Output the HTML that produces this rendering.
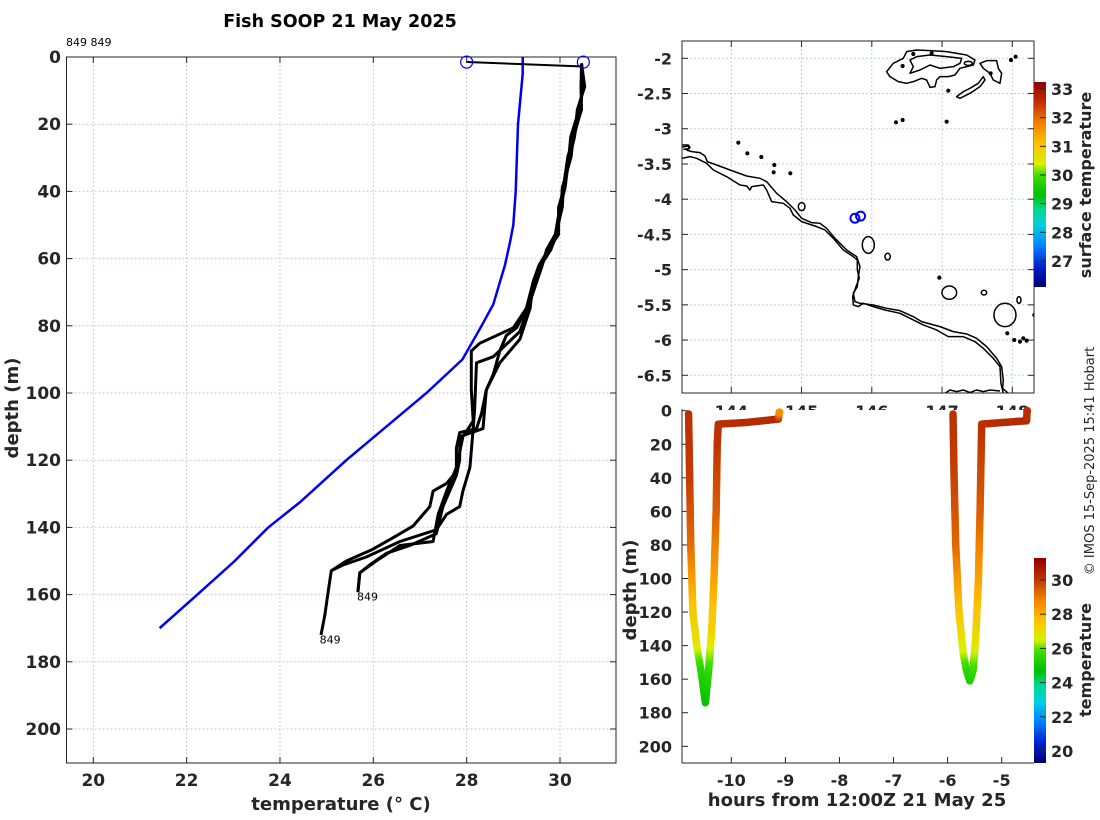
<!DOCTYPE html>
<html><head><meta charset="utf-8"><style>
html,body{margin:0;padding:0;background:#fff;}
svg{display:block;font-family:"DejaVu Sans","Liberation Sans",sans-serif;}
.tk{font-size:16px;font-weight:bold;fill:#262626;}
.tkl{font-size:17px;font-weight:bold;fill:#262626;}
.lb{font-size:18px;font-weight:bold;fill:#262626;}
.grid{stroke:#c4cbe8;stroke-width:1;stroke-dasharray:2,2;}
</style></head><body>
<svg id="fig" width="1100" height="820" viewBox="0 0 1100 820">
<defs>
<linearGradient id="cmap" x1="0" y1="1" x2="0" y2="0">
<stop offset="0" stop-color="#000070"/><stop offset="0.1" stop-color="#0020d0"/><stop offset="0.2" stop-color="#0080ff"/><stop offset="0.3" stop-color="#00d0e0"/><stop offset="0.38" stop-color="#00d890"/><stop offset="0.45" stop-color="#00c000"/><stop offset="0.55" stop-color="#40e000"/><stop offset="0.6" stop-color="#d8f000"/><stop offset="0.7" stop-color="#ffc000"/><stop offset="0.8" stop-color="#f08000"/><stop offset="0.9" stop-color="#c03000"/><stop offset="1" stop-color="#900000"/>
</linearGradient>
<clipPath id="mapclip"><rect x="682" y="41" width="352" height="352"/></clipPath>
<clipPath id="leftclip"><rect x="66.5" y="50" width="549.5" height="713"/></clipPath>
</defs>
<text x="340" y="27" text-anchor="middle" style="font-size:17.5px;font-weight:bold">Fish SOOP 21 May 2025</text>
<text x="66" y="46" style="font-size:11px">849 849</text>
<g id="left"></g>
<g id="map"></g>
<g id="lower"></g>
<text transform="translate(1094,461) rotate(-90)" text-anchor="middle" style="font-size:13px;fill:#262626">© IMOS 15-Sep-2025 15:41 Hobart</text>
</svg>
<script>
// ---------- left profile data ----------
const climTemp=[29.2,29.2,29.1,29.05,29.0,28.93,28.82,28.57,28.32,27.91,27.14,26.28,25.42,24.42,23.75,23.03,22.23,21.42];
const climDepth=[0,5,20,40,50,55,62,73.6,80,90,100,110,120,132.6,140,150,160,170];
const topT=[30.46,30.48,30.41,30.28,30.21,30.07,30.0,29.93,29.75,29.57];
const topD=[1.9,8.8,15.7,23.8,29.6,38.9,44.7,52.8,57.4,62.0];
const profATemp=[29.43,29.28,29.07,28.85,28.71,28.57,28.42,28.32,28.21,27.85,27.78,27.78,27.57,27.28,27.21,26.85,26.42,25.99,25.42,25.10,25.03,24.96,24.88];
const profADepth=[66.7,74.8,80.6,82.9,87.5,94.4,99.1,106.0,110.6,111.8,116.4,123.4,126.9,129.2,133.8,139.6,143.1,146.5,150.0,152.9,159.3,166.2,172.0];
const profBTemp=[29.28,29.0,28.28,28.10,28.10,28.14,27.92,27.85,27.78,27.57,27.39,27.28,26.57,26.06,25.71,25.67];
const profBDepth=[74.8,80.6,85.2,87.5,99.1,108.3,113.0,117.6,122.2,129.2,136.1,144.2,145.4,150.0,153.5,159.3];
const profCTemp=[29.14,28.57,28.21,28.17,28.14,28.07,27.92,27.85,27.57,27.35,26.57,25.85,25.35,25.10];
const profCDepth=[81.7,89.2,91.0,104.9,110.6,122.2,129.2,133.8,136.1,140.7,144.2,148.8,151.2,152.9];
const profDTemp=[29.43,29.36,29.14,28.71,28.42,28.35,27.85,27.85,27.78,27.49,27.35,26.78,26.28,25.92,25.71,25.67];
const profDDepth=[66.7,74.8,84.0,91.0,99.1,110.6,113.0,119.9,124.5,133.8,141.9,145.4,147.7,151.2,153.5,159.3];
const startTemp=[28.0,30.43];
const startDepth=[1.5,2.8];
const circleTemp=[28.0,30.5];
const circleDepth=[1.5,1.5];
const tempTicks=[20,22,24,26,28,30];
const depthTicks=[0,20,40,60,80,100,120,140,160,180,200];
// ---------- map data ----------
const shipLon=[145.76,145.84];
const shipLat=[-4.27,-4.24];
const latTicks=[-2,-2.5,-3,-3.5,-4,-4.5,-5,-5.5,-6,-6.5];
const lonTicks=[144,145,146,147,148];
const sstTicks=[27,28,29,30,31,32,33];
// ---------- section data ----------
const dive1Time=[-10.79,-10.77,-10.75,-10.71,-10.64,-10.56,-10.48,-10.42,-10.36,-10.32,-10.28,-10.26,-10.24,-9.72,-9.13,-9.11];
const dive1Depth=[2,40,80,120,140,155,174,155,130,100,60,20,8,7,5,1];
const dive1Temp=[30.4,30.2,29.3,27.5,26.8,25.5,24.8,25.5,27.2,28.2,29.5,30.3,30.4,30.5,30.5,28.6];
const dive2Time=[-5.90,-5.88,-5.85,-5.79,-5.71,-5.65,-5.59,-5.53,-5.48,-5.43,-5.40,-5.37,-4.97,-4.54,-4.53];
const dive2Depth=[2,40,80,120,145,155,161,155,135,100,60,8,7,6,0];
const dive2Temp=[30.4,30.1,29.4,27.6,26.5,25.6,25.2,25.6,27.0,28.2,29.5,30.4,30.5,30.5,30.4];
const hourTicks=[-10,-9,-8,-7,-6,-5];
const secDepthTicks=[0,20,40,60,80,100,120,140,160,180,200];
const cbTempTicks=[20,22,24,26,28,30];

const NS="http://www.w3.org/2000/svg";
function mk(parent,tag,attrs,name,text){const e=document.createElementNS(NS,tag);for(const k in attrs)e.setAttribute(k,attrs[k]);


if(text!==undefined)e.textContent=text;parent.appendChild(e);return e;}
function lin(d0,d1,r0,r1){return v=>r0+(v-d0)/(d1-d0)*(r1-r0);}

// ================= LEFT =================
const L=document.getElementById('left');
const lx=lin(20,30,93.3,560),ly=lin(0,200,57,729);
const LX0=66.5,LX1=616,LY0=57,LY1=763;
tempTicks.forEach(t=>{mk(L,'line',{x1:lx(t),x2:lx(t),y1:LY0,y2:LY1,class:'grid'},'x-gridline');
mk(L,'line',{x1:lx(t),x2:lx(t),y1:LY1,y2:LY1-6,stroke:'#262626'},'x-tick');
mk(L,'line',{x1:lx(t),x2:lx(t),y1:LY0,y2:LY0+6,stroke:'#262626'},'x-tick');
mk(L,'text',{x:lx(t),y:786,'text-anchor':'middle',class:'tkl'},'x-tick-label',String(t));});
depthTicks.forEach(d=>{mk(L,'line',{x1:LX0,x2:LX1,y1:ly(d),y2:ly(d),class:'grid'},'y-gridline');
mk(L,'line',{x1:LX0,x2:LX0+6,y1:ly(d),y2:ly(d),stroke:'#262626'},'y-tick');
mk(L,'line',{x1:LX1,x2:LX1-6,y1:ly(d),y2:ly(d),stroke:'#262626'},'y-tick');
mk(L,'text',{x:61,y:ly(d)+6,'text-anchor':'end',class:'tkl'},'y-tick-label',String(d));});
mk(L,'rect',{x:LX0,y:LY0,width:LX1-LX0,height:LY1-LY0,fill:'none',stroke:'#262626'},'plot-frame');
const lg=mk(L,'g',{'clip-path':'url(#leftclip)'},'profile-lines');
function pts(T,D){return T.map((t,i)=>lx(t).toFixed(1)+','+ly(D[i]).toFixed(1)).join(' ');}
mk(lg,'polyline',{points:pts(climTemp,climDepth),fill:'none',stroke:'#0000ee','stroke-width':2.5},'climatology-line');
const profs=[[profATemp,profADepth,[0,0.05,-0.04,0.03,0,0.02,-0.03,0.04,0,-0.02]],[profBTemp,profBDepth,[0,-0.03,0.05,0,0.03,-0.02,0.03,0,0.05,0.02]],[profCTemp,profCDepth,[0,0.02,0,-0.05,-0.02,0.04,0,-0.03,-0.04,0.05]],[profDTemp,profDDepth,[0,0,0.03,0.02,-0.04,0,0.05,-0.02,0.03,0]]];
profs.forEach((p,k)=>{const T=topT.map((t,i)=>t+p[2][i]).concat(p[0]);const D=topD.concat(p[1]);
mk(lg,'polyline',{points:pts(T,D),fill:'none',stroke:'#000','stroke-width':3,'stroke-linejoin':'round'},'xbt-profile');});
mk(lg,'polyline',{points:pts(startTemp,startDepth),fill:'none',stroke:'#000','stroke-width':2},'surface-connector');
circleTemp.forEach((t,i)=>mk(lg,'circle',{cx:lx(t),cy:ly(circleDepth[i]),r:6,fill:'none',stroke:'#0000ff','stroke-width':1.2},'start-marker'));
mk(L,'text',{x:lx(25.65),y:ly(160)+6,style:'font-size:11px'},'profile-label','849');
mk(L,'text',{x:lx(24.85),y:ly(174)+2,style:'font-size:11px'},'profile-label','849');
mk(L,'text',{x:341,y:810,'text-anchor':'middle',class:'lb'},'x-axis-title','temperature (° C)');
mk(L,'text',{transform:'translate(18,408) rotate(-90)','text-anchor':'middle',class:'lb'},'y-axis-title','depth (m)');

// ================= MAP =================
const M=document.getElementById('map');
const mx=lin(144,148,731.3,1012.3),my=lin(-2,-6.5,58.3,375.3);
const MX0=682,MX1=1034,MY0=41,MY1=393;
lonTicks.forEach(v=>{mk(M,'line',{x1:mx(v),x2:mx(v),y1:MY0,y2:MY1,class:'grid'},'lon-gridline');
mk(M,'line',{x1:mx(v),x2:mx(v),y1:MY0,y2:MY0+6,stroke:'#262626'},'lon-tick');
mk(M,'line',{x1:mx(v),x2:mx(v),y1:MY1,y2:MY1-6,stroke:'#262626'},'lon-tick');
mk(M,'text',{x:mx(v),y:417,'text-anchor':'middle',class:'tk'},'lon-tick-label',String(v));});
latTicks.forEach(v=>{mk(M,'line',{x1:MX0,x2:MX1,y1:my(v),y2:my(v),class:'grid'},'lat-gridline');
mk(M,'line',{x1:MX0,x2:MX0+6,y1:my(v),y2:my(v),stroke:'#262626'},'lat-tick');
mk(M,'line',{x1:MX1,x2:MX1-6,y1:my(v),y2:my(v),stroke:'#262626'},'lat-tick');
mk(M,'text',{x:672,y:my(v)+6,'text-anchor':'end',class:'tk'},'lat-tick-label',String(v));});
const cg=mk(M,'g',{'clip-path':'url(#mapclip)'},'coastlines');
const cz=mk(cg,'g',{transform:'translate(620,30) scale(0.3333)',fill:'none',stroke:'#000','stroke-width':4.5,'stroke-linejoin':'round'},'coast-group');
const coast=[
"M187,345 L205,345 210,352 200,360 215,365 240,368 255,378 262,395 290,405 330,420 380,438 420,445 440,455 470,490 500,515 525,540 545,565 575,578 600,580 620,595 645,625 680,660 710,680 720,710 715,740 712,770 700,790 705,815 720,820 760,825 800,835 840,842 880,860 905,875 960,890 1000,905 1040,912 1070,925 1100,950 1130,985 1145,1010 1150,1050 1148,1075 1165,1090",
"M187,385 L210,380 230,385 260,400 280,420 320,440 360,465 380,468 390,480 395,470 430,465 440,480 455,515 490,520 510,535 520,555 545,575 590,590 615,600 640,625 670,660 700,680 712,690 712,720 718,745 708,770 698,800 700,825 715,830 730,820 760,830 795,840 840,850 880,870 910,885 950,900 985,920 1030,920 1065,935 1090,955 1120,985 1140,1010 1143,1060 1150,1090",
"M975,1090 L990,1080 1010,1085 1030,1080 1050,1088 1070,1080 1090,1085 1110,1080 1140,1083",
"M800,125 L820,100 850,85 860,65 890,60 930,62 980,65 1040,75 1065,90 1060,105 1040,110 1020,115 1005,135 985,140 960,140 950,150 945,170 930,172 920,150 905,145 880,155 860,160 835,155 810,140 Z",
"M870,90 L880,110 870,130 900,120 930,105 960,115 1000,110 1020,100 1025,85 980,80 930,75 890,80 Z",
"M1080,100 L1100,92 1130,92 1135,115 1145,130 1140,160 1120,150 1110,130 1090,115 Z",
"M1010,200 L1030,185 1050,175 1075,160 1090,140 1095,150 1080,170 1050,190 1020,205 Z",
"M183,352 L205,348 208,356 190,358"];
coast.forEach(d=>mk(cz,'path',{d:d},'coastline'));
[[545,530,10,12],[745,645,18,25],[803,680,8,10],[988,788,22,20],[1092,788,8,7],[1155,855,33,35],[1197,810,6,10],[1045,100,12,6]].forEach(e=>mk(cz,'ellipse',{cx:e[0],cy:e[1],rx:e[2],ry:e[3]},'island'));
[[355,338],[382,370],[424,381],[463,405],[461,427],[511,430],[828,277],[848,270],[980,275],[958,743],[985,182],[1173,90],[1187,80],[1162,910],[1183,930],[1200,935],[1210,925],[1220,932],[1243,855],[880,72],[935,70],[848,108],[1112,130]].forEach(p=>mk(cz,'circle',{cx:p[0],cy:p[1],r:4,fill:'#000'},'islet'));
shipLon.forEach((v,i)=>mk(cg,'circle',{cx:mx(v),cy:my(shipLat[i]),r:4.5,fill:'none',stroke:'#0000ff','stroke-width':2},'ship-position'));
mk(M,'rect',{x:MX0,y:MY0,width:MX1-MX0,height:MY1-MY0,fill:'none',stroke:'#262626'},'map-frame');
// sst colorbar
const sy=lin(27,33,261,89);
mk(M,'rect',{x:1034,y:82,width:12,height:205,fill:'url(#cmap)'},'sst-colorbar');
sstTicks.forEach(v=>{mk(M,'line',{x1:1040,x2:1046,y1:sy(v),y2:sy(v),stroke:'#262626'},'sst-tick');
mk(M,'text',{x:1051,y:sy(v)+6,class:'tk'},'sst-tick-label',String(v));});
mk(M,'text',{transform:'translate(1091,185) rotate(-90)','text-anchor':'middle',class:'lb',style:'font-size:16px'},'sst-colorbar-title','surface temperature');

// ================= LOWER =================
const S=document.getElementById('lower');
const tx=lin(-10,-5,731.3,1001.7),dy=lin(0,200,410.7,746.3);
mk(S,'rect',{x:676,y:410,width:360,height:354,fill:'#fff'},'section-background');
mk(S,'line',{x1:682,x2:682,y1:409,y2:763,stroke:'#262626'},'y-axis-line');
mk(S,'line',{x1:682,x2:1034,y1:763,y2:763,stroke:'#262626'},'x-axis-line');
hourTicks.forEach(v=>{mk(S,'line',{x1:tx(v),x2:tx(v),y1:763,y2:757,stroke:'#262626'},'hour-tick');
mk(S,'text',{x:tx(v),y:786,'text-anchor':'middle',class:'tk'},'hour-tick-label',String(v));});
secDepthTicks.forEach(v=>{mk(S,'line',{x1:682,x2:688,y1:dy(v),y2:dy(v),stroke:'#262626'},'depth-tick');
mk(S,'text',{x:672,y:dy(v)+6,'text-anchor':'end',class:'tk'},'depth-tick-label',String(v));});
function col(T){const t=Math.max(0,Math.min(1,(T-19.3)/12));
const st=[[0,0,0,112],[0.1,0,32,208],[0.2,0,128,255],[0.3,0,208,224],[0.38,0,216,144],[0.45,0,192,0],[0.55,64,224,0],[0.6,216,240,0],[0.7,255,192,0],[0.8,240,128,0],[0.9,200,64,0],[1,144,0,0]];
for(let i=1;i<st.length;i++){if(t<=st[i][0]){const a=st[i-1],b=st[i],f=(t-a[0])/(b[0]-a[0]);
return 'rgb('+[1,2,3].map(j=>Math.round(a[j]+f*(b[j]-a[j]))).join(',')+')';}}return 'rgb(144,0,0)';}
function dive(T,D,C){const g=mk(S,'g',{},'dive-track');
for(let i=0;i<T.length-1;i++){const x0=tx(T[i]),y0=dy(D[i]),x1=tx(T[i+1]),y1=dy(D[i+1]);
const n=Math.max(1,Math.ceil(Math.hypot(x1-x0,y1-y0)/2));
for(let k=0;k<n;k++){const f=k/n;
mk(g,'circle',{cx:x0+f*(x1-x0),cy:y0+f*(y1-y0),r:3.8,fill:col(C[i]+f*(C[i+1]-C[i]))},'track-point');}}
const j=T.length-1;mk(g,'circle',{cx:tx(T[j]),cy:dy(D[j]),r:4,fill:col(C[j])},'track-point');}
dive(dive1Time,dive1Depth,dive1Temp);
dive(dive2Time,dive2Depth,dive2Temp);
const cy2=lin(20,30,751,580);
mk(S,'rect',{x:1034,y:558,width:12,height:205,fill:'url(#cmap)'},'temp-colorbar');
cbTempTicks.forEach(v=>{mk(S,'line',{x1:1040,x2:1046,y1:cy2(v),y2:cy2(v),stroke:'#262626'},'temp-cb-tick');
mk(S,'text',{x:1051,y:cy2(v)+6,class:'tk'},'temp-cb-tick-label',String(v));});
mk(S,'text',{transform:'translate(1091,660) rotate(-90)','text-anchor':'middle',class:'lb',style:'font-size:16px'},'temp-colorbar-title','temperature');
mk(S,'text',{x:857,y:806,'text-anchor':'middle',class:'lb'},'hours-axis-title','hours from 12:00Z 21 May 25');
mk(S,'text',{transform:'translate(636,590) rotate(-90)','text-anchor':'middle',class:'lb'},'section-depth-title','depth (m)');
</script>
</body></html>
